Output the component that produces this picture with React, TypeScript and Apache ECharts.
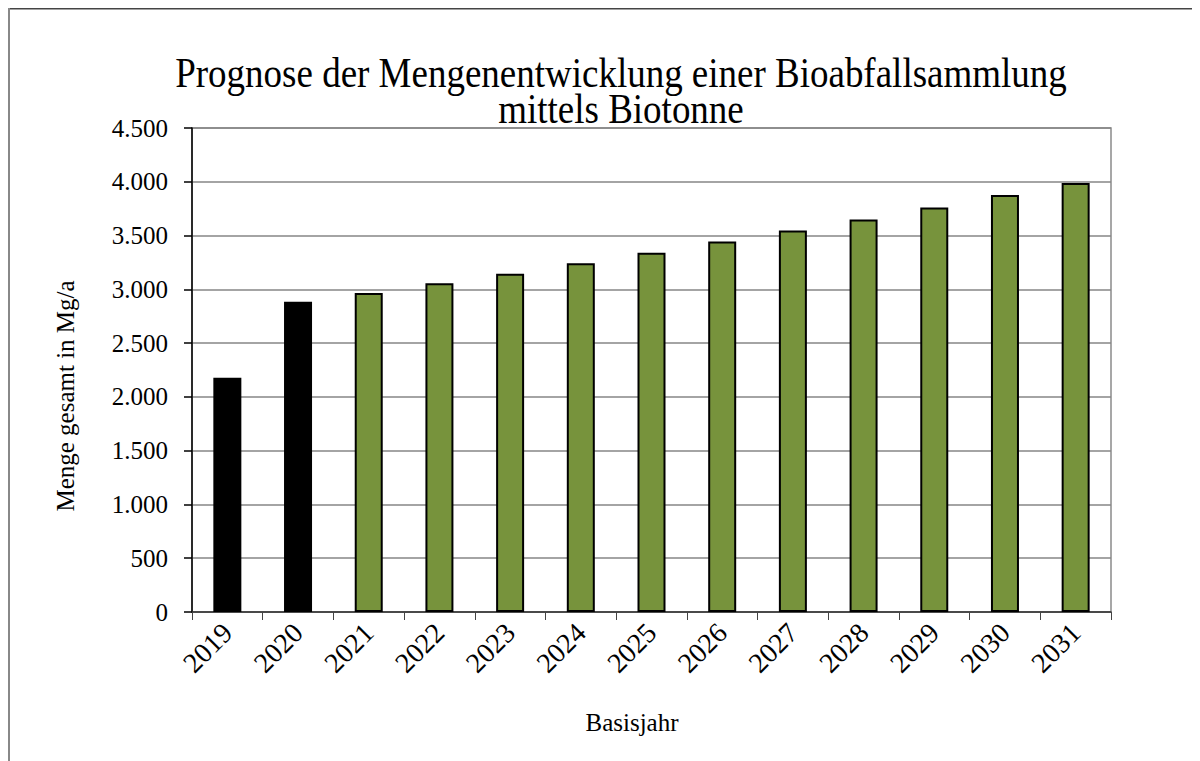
import React, { useEffect, useRef } from "react";
import * as echarts from "echarts";

const years = ["2019", "2020", "2021", "2022", "2023", "2024", "2025", "2026", "2027", "2028", "2029", "2030", "2031"];
const istWerte = [2177, 2885, null, null, null, null, null, null, null, null, null, null, null];
const prognoseWerte = [null, null, 2966, 3056, 3146, 3242, 3339, 3444, 3547, 3649, 3761, 3876, 3988];
const titleLines = ["Prognose der Mengenentwicklung einer Bioabfallsammlung", "mittels Biotonne"];
const yAxisTitle = "Menge gesamt in Mg/a";
const xAxisTitle = "Basisjahr";

const FONT = "'Liberation Serif', 'Times New Roman', serif";

function fmt(v: number): string {
  if (v >= 1000) {
    return Math.floor(v / 1000) + "." + String(v % 1000).padStart(3, "0");
  }
  return String(v);
}

export default function App() {
  const ref = useRef<HTMLDivElement>(null);
  useEffect(() => {
    if (!ref.current) return;
    const chart = echarts.init(ref.current, null, { renderer: "svg" });
    chart.setOption({
      animation: false,
      backgroundColor: "#ffffff",
      grid: {
        left: 184,
        top: 120,
        right: 89,
        bottom: 149,
        show: true,
        borderColor: "#8a8a8a",
        borderWidth: 1.5,
        backgroundColor: "transparent",
      },
      graphic: [
        { type: "rect", shape: { x: 0, y: 0, width: 1192, height: 1.5 }, style: { fill: "#444444" }, silent: true },
        { type: "rect", shape: { x: 0, y: 0, width: 2, height: 753 }, style: { fill: "#888888" }, silent: true },
        {
          type: "text",
          x: 613,
          y: 65,
          scaleY: 1.12,
          style: { text: titleLines[0], font: `37px ${FONT}`, fill: "#000", textAlign: "center", textVerticalAlign: "middle" },
        },
        {
          type: "text",
          x: 613,
          y: 101,
          scaleY: 1.12,
          style: { text: titleLines[1], font: `37px ${FONT}`, fill: "#000", textAlign: "center", textVerticalAlign: "middle" },
        },
        {
          type: "text",
          x: 57,
          y: 388,
          rotation: Math.PI / 2,
          style: { text: yAxisTitle, font: `25px ${FONT}`, fill: "#000", textAlign: "center", textVerticalAlign: "middle" },
        },
        {
          type: "text",
          x: 624,
          y: 714,
          style: { text: xAxisTitle, font: `25px ${FONT}`, fill: "#000", textAlign: "center", textVerticalAlign: "middle" },
        },
      ],
      xAxis: {
        type: "category",
        data: years,
        boundaryGap: true,
        axisLine: { show: true, lineStyle: { color: "#333333", width: 1.5 } },
        axisTick: { show: true, length: 8, lineStyle: { color: "#444444", width: 1 } },
        axisLabel: {
          rotate: 45,
          margin: 16,
          fontFamily: FONT,
          fontSize: 28,
          color: "#000",
          interval: 0,
        },
        splitLine: { show: false },
      },
      yAxis: {
        type: "value",
        min: 0,
        max: 4500,
        interval: 500,
        axisLine: { show: true, lineStyle: { color: "#000000", width: 1.5 } },
        axisTick: { show: true, length: 8, lineStyle: { color: "#000000", width: 1.5 } },
        axisLabel: {
          margin: 24,
          fontFamily: FONT,
          fontSize: 25,
          color: "#000",
          formatter: (v: number) => fmt(v),
        },
        splitLine: { show: true, lineStyle: { color: "#868686", width: 1.5 } },
      },
      series: [
        {
          name: "Ist",
          type: "bar",
          stack: "menge",
          data: istWerte,
          barWidth: 28,
          itemStyle: { color: "#000000", borderColor: "#000000", borderWidth: 2 },
        },
        {
          name: "Prognose",
          type: "bar",
          stack: "menge",
          data: prognoseWerte,
          barWidth: 28,
          itemStyle: { color: "#77933C", borderColor: "#000000", borderWidth: 2 },
        },
      ],
    });
    return () => chart.dispose();
  }, []);
  return <div ref={ref} style={{ width: 1192, height: 753 }} />;
}
